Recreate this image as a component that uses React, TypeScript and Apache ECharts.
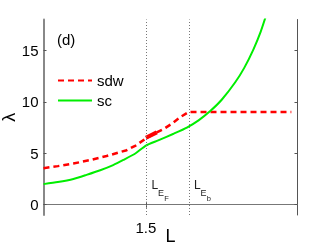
import React, { useEffect, useRef } from "react";
import * as echarts from "echarts";

// sc (green) curve
const scL = [1.0, 1.07, 1.146, 1.21, 1.277, 1.34, 1.39, 1.45, 1.5, 1.56, 1.635, 1.7, 1.757, 1.814, 1.87, 1.936, 1.98, 2.025, 2.06, 2.09];
const scLambda = [2.0, 2.2, 2.5, 2.9, 3.35, 3.85, 4.35, 5.0, 5.75, 6.25, 6.9, 7.5, 8.2, 9.1, 10.2, 11.9, 13.3, 15.1, 16.8, 18.6];

// sdw (red dashed) curve
const sdwL = [1.0, 1.07, 1.146, 1.23, 1.308, 1.406, 1.45, 1.5, 1.553, 1.59, 1.633, 1.667, 1.708, 2.21];
const sdwLambda = [3.55, 3.75, 4.0, 4.35, 4.73, 5.3, 5.75, 6.45, 7.03, 7.4, 7.96, 8.5, 9.0, 9.0];

// thick red segment
const sdwThickL = [1.5, 1.553];
const sdwThickLambda = [6.5, 7.03];

// vertical markers
const L_EF = 1.5;
const L_Eb = 1.708;

const xTicks = [1.5];
const yTicks = [0, 5, 10, 15];

const X_MIN = 1.0;
const X_MAX = 2.24;
const Y_MIN = -1;
const Y_MAX = 18;

const zip = (a: number[], b: number[]) => a.map((v, i) => [v, b[i]]);

export default function App() {
  const ref = useRef<HTMLDivElement>(null);
  useEffect(() => {
    const chart = echarts.init(ref.current!, null, { renderer: "svg" });
    const font = "'Liberation Sans', Arial, Helvetica, sans-serif";
    const tick = { show: true, inside: true, length: 3, lineStyle: { color: "#555", width: 1 } };
    chart.setOption({
      animation: false,
      textStyle: { fontFamily: font },
      grid: { left: 43.5, right: 34.5, top: 19.5, bottom: 35, containLabel: false, outerBoundsMode: "none" },
      legend: {
        data: ["sdw", "sc"],
        orient: "vertical",
        left: 57,
        top: 73,
        itemWidth: 34,
        itemHeight: 14,
        itemGap: 5,
        padding: 0,
        itemStyle: { opacity: 0 },
        textStyle: { fontSize: 15, color: "#000", fontFamily: font },
      },
      xAxis: [
        {
          type: "value",
          min: X_MIN,
          max: X_MAX,
          name: "L",
          nameLocation: "middle",
          nameGap: 12,
          nameMoveOverlap: false,
          nameTextStyle: { fontSize: 18, color: "#000", fontFamily: font },
          axisLine: { show: true, lineStyle: { color: "#333", width: 1 } },
          axisTick: { ...tick, customValues: xTicks },
          axisLabel: { customValues: xTicks, fontSize: 15, color: "#000", margin: 5, formatter: (v: number) => v.toFixed(1) },
          splitLine: { show: false },
        },
        {
          type: "value",
          position: "top",
          min: X_MIN,
          max: X_MAX,
          axisLine: { show: true, lineStyle: { color: "#777", width: 1 } },
          axisTick: { ...tick, customValues: xTicks },
          axisLabel: { show: false },
          splitLine: { show: false },
        },
      ],
      yAxis: [
        {
          type: "value",
          min: Y_MIN,
          max: Y_MAX,
          name: "λ",
          nameLocation: "middle",
          nameGap: 26,
          nameRotate: 90,
          nameMoveOverlap: false,
          nameTextStyle: { fontSize: 18, color: "#000", fontFamily: font },
          axisLine: { show: true, lineStyle: { color: "#888", width: 2 } },
          axisTick: { ...tick, customValues: yTicks },
          axisLabel: { customValues: yTicks, fontSize: 15, color: "#000", margin: 5 },
          splitLine: { show: false },
        },
        {
          type: "value",
          position: "right",
          min: Y_MIN,
          max: Y_MAX,
          axisLine: { show: true, lineStyle: { color: "#555", width: 1 } },
          axisTick: { ...tick, customValues: yTicks },
          axisLabel: { show: false },
          splitLine: { show: false },
        },
      ],
      series: [
        {
          name: "markers",
          type: "line",
          data: [],
          silent: true,
          markLine: {
            silent: true,
            symbol: "none",
            label: { show: false },
            lineStyle: { color: "#777", type: [1, 2], width: 1 },
            data: [{ xAxis: L_EF }, { xAxis: L_Eb }],
          },
        },
        {
          name: "sdw",
          type: "line",
          data: zip(sdwL, sdwLambda),
          symbol: "none",
          showSymbol: false,
          smooth: false,
          lineStyle: { color: "#ff0000", width: 2.5, type: [6, 4] },
          itemStyle: { color: "#ff0000" },
        },
        {
          name: "sdwThick",
          type: "line",
          data: zip(sdwThickL, sdwThickLambda),
          symbol: "none",
          showSymbol: false,
          lineStyle: { color: "#ff0000", width: 4 },
          itemStyle: { color: "#ff0000" },
        },
        {
          name: "sc",
          type: "line",
          data: zip(scL, scLambda),
          symbol: "none",
          showSymbol: false,
          smooth: 0.2,
          lineStyle: { color: "#00ee00", width: 2 },
          itemStyle: { color: "#00ee00" },
        },
      ],
    });

    const pF = chart.convertToPixel({ xAxisIndex: 0, yAxisIndex: 0 }, [L_EF, 2.3]) as number[];
    const pB = chart.convertToPixel({ xAxisIndex: 0, yAxisIndex: 0 }, [L_Eb, 2.3]) as number[];
    const annot = (p: number[], sub: string) => [
      { type: "text", x: p[0] + 5.5, y: p[1] - 2.5, style: { text: "L", fontSize: 12, fill: "#222", fontFamily: font, textVerticalAlign: "top" } },
      { type: "text", x: p[0] + 12, y: p[1] + 7.5, style: { text: "E", fontSize: 9, fill: "#222", fontFamily: font, textVerticalAlign: "top" } },
      { type: "text", x: p[0] + 18.3, y: p[1] + 13.5, style: { text: sub, fontSize: 7.5, fill: "#222", fontFamily: font, textVerticalAlign: "top" } },
    ];
    chart.setOption({
      graphic: [
        { type: "text", left: 57, top: 32, style: { text: "(d)", fontSize: 15, fill: "#000", fontFamily: font } },
        ...annot(pF, "F"),
        ...annot(pB, "b"),
      ],
    });
    return () => chart.dispose();
  }, []);
  return <div ref={ref} style={{ position: "fixed", left: 0, top: 0, width: 332, height: 250 }} />;
}
